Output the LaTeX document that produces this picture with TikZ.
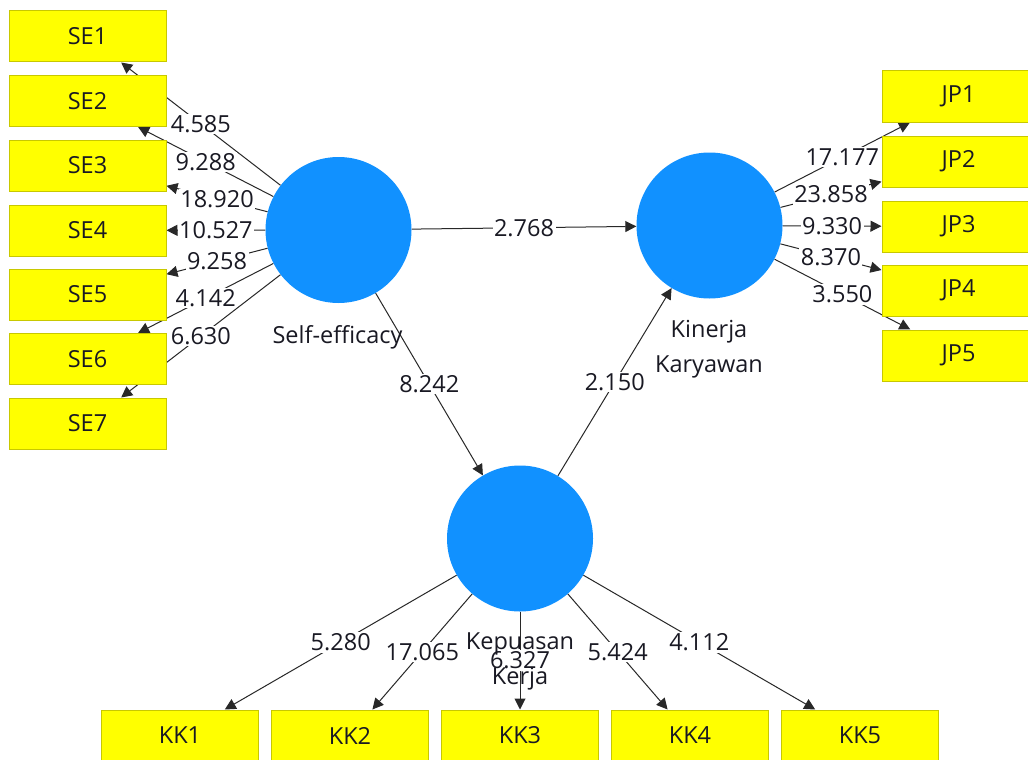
\documentclass[tikz,border=0pt]{standalone}
\usepackage{fontspec}
\setmainfont{Open Sans}
\usetikzlibrary{arrows.meta}
\pgfdeclarelayer{bg}
\pgfsetlayers{bg,main}
\definecolor{lvblue}{RGB}{17,145,255}
\definecolor{boxyel}{RGB}{255,255,0}
\definecolor{boxedge}{RGB}{200,200,0}
\definecolor{txt}{RGB}{25,25,35}
\definecolor{linec}{RGB}{40,40,40}
\begin{document}
\begin{tikzpicture}[x=1pt,y=-1pt,
  font=\fontsize{23.5}{28}\selectfont,
  ind/.style={draw=boxedge, fill=boxyel, line width=1pt, minimum width=157pt, minimum height=51pt, inner sep=0pt, text=txt},
  lv/.style={circle, fill=lvblue, minimum size=146pt, inner sep=0pt},
  conn/.style={draw=linec, line width=1pt, -{Triangle[length=11pt,width=11pt]}},
  val/.style={fill=white, inner sep=1.5pt, text=txt, midway},
  lvlab/.style={text=txt, align=center, inner sep=0pt}]
\useasboundingbox (0,0) rectangle (1028,760);
\clip (0,0) rectangle (1028,760);
% latent variables
\node[lv] (SEf) at (338.5,230) {};
\node[lv] (KIN) at (709.5,225.5) {};
\node[lv] (KEP) at (520,538.5) {};
% indicators
\node[ind] (SE1) at (87.5,36.5) {SE1};
\node[ind] (SE2) at (87.5,101) {SE2};
\node[ind] (SE3) at (87.5,165.5) {SE3};
\node[ind] (SE4) at (87.5,230.5) {SE4};
\node[ind] (SE5) at (87.5,294.5) {SE5};
\node[ind] (SE6) at (87.5,359) {SE6};
\node[ind] (SE7) at (87.5,423.5) {SE7};
\node[ind] (JP1) at (960.5,96.5) {\hspace*{-4pt}JP1};
\node[ind] (JP2) at (960.5,161.5) {\hspace*{-4pt}JP2};
\node[ind] (JP3) at (960.5,226.5) {\hspace*{-4pt}JP3};
\node[ind] (JP4) at (960.5,290.5) {\hspace*{-4pt}JP4};
\node[ind] (JP5) at (960.5,355.5) {\hspace*{-4pt}JP5};
\node[ind] (KK1) at (180,735.5) {KK1};
\node[ind] (KK2) at (350,735.5) {KK2};
\node[ind] (KK3) at (520,735.5) {KK3};
\node[ind] (KK4) at (690,735.5) {KK4};
\node[ind] (KK5) at (860,735.5) {KK5};
% latent labels
\node[lvlab] (SEfl) at (337.5,337) {Self-efficacy};
\node[lvlab] (KINl1) at (709,332) {Kinerja};
\node[lvlab] (KINl2) at (709,367) {Karyawan};
\node[lvlab] (KEPl1) at (520,644) {Kepuasan};
\node[lvlab] (KEPl2) at (520,679) {Kerja};
\begin{pgfonlayer}{bg}
\fill[white] (0,0) rectangle (1028,760);
\draw[conn] (SEf) -- (SE1) node[val] {4.585};
\draw[conn] (SEf) -- (SE2) node[val] {9.288};
\draw[conn] (SEf) -- (SE3) node[val] {18.920};
\draw[conn] (SEf) -- (SE4) node[val] {10.527};
\draw[conn] (SEf) -- (SE5) node[val] {9.258};
\draw[conn] (SEf) -- (SE6) node[val] {4.142};
\draw[conn] (SEf) -- (SE7) node[val] {6.630};
\draw[conn] (KIN) -- (JP1) node[val] {17.177};
\draw[conn] (KIN) -- (JP2) node[val] {23.858};
\draw[conn] (KIN) -- (JP3) node[val] {9.330};
\draw[conn] (KIN) -- (JP4) node[val] {8.370};
\draw[conn] (KIN) -- (JP5) node[val] {3.550};
\draw[conn] (KEP) -- (KK1) node[val] {5.280};
\draw[conn] (KEP) -- (KK2) node[val] {17.065};
\draw[conn] (KEP) -- (KK3) node[val] {6.327};
\draw[conn] (KEP) -- (KK4) node[val] {5.424};
\draw[conn] (KEP) -- (KK5) node[val] {4.112};
\draw[conn] (SEf) -- (KIN) node[val] {2.768};
\draw[conn] (SEf) -- (KEP) node[val] {8.242};
\draw[conn] (KEP) -- (KIN) node[val] {2.150};
\end{pgfonlayer}
\end{tikzpicture}
\end{document}
